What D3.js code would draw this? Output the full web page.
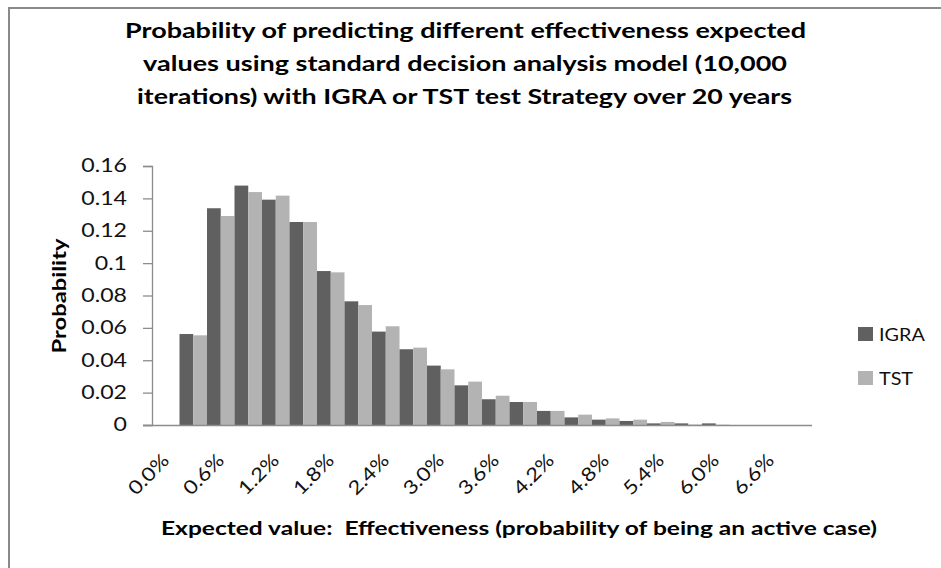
<!DOCTYPE html>
<html><head><meta charset="utf-8">
<script src="https://cdn.jsdelivr.net/npm/d3@7"></script>
<style>html,body{margin:0;padding:0;background:#fff;overflow:hidden} text{white-space:pre}</style>
</head><body>
<svg id="chart" width="941" height="568"></svg>
<script>
const categories = ["0.0%","0.3%","0.6%","0.9%","1.2%","1.5%","1.8%","2.1%","2.4%","2.7%","3.0%","3.3%","3.6%","3.9%","4.2%","4.5%","4.8%","5.1%","5.4%","5.7%","6.0%","6.3%","6.6%","6.9%"];
const tickLabels = ["0.0%","0.6%","1.2%","1.8%","2.4%","3.0%","3.6%","4.2%","4.8%","5.4%","6.0%","6.6%"];
const seriesNames = ["IGRA","TST"];
const igra = [0, 0.0562, 0.1339, 0.1479, 0.1392, 0.1254, 0.0951, 0.0764, 0.0577, 0.0468, 0.0367, 0.0245, 0.0159, 0.0142, 0.0087, 0.0047, 0.0033, 0.0025, 0.0010, 0.0010, 0.0010, 0, 0, 0];
const tst  = [0, 0.0554, 0.1291, 0.1439, 0.1417, 0.1254, 0.0943, 0.0741, 0.0610, 0.0478, 0.0344, 0.0268, 0.0181, 0.0142, 0.0087, 0.0064, 0.0041, 0.0033, 0.0019, 0.0003, 0.0002, 0, 0, 0];
const yTicks = [0, 0.02, 0.04, 0.06, 0.08, 0.1, 0.12, 0.14, 0.16];
const titleLines = ["Probability of predicting different effectiveness expected","values using standard decision analysis model (10,000","iterations) with IGRA or TST test Strategy over 20 years"];
const xTitle = "Expected value:  Effectiveness (probability of being an active case)";
const yTitle = "Probability";

const FONT = "Lato, 'Open Sans', sans-serif";
const colors = {IGRA:"#606060", TST:"#b3b3b3"};
const svg = d3.select("#chart");

function stretch(sel, k){ sel.each(function(){ const L=this.getComputedTextLength(); d3.select(this).attr("textLength", L*k).attr("lengthAdjust","spacingAndGlyphs"); }); }
function fitTo(sel, w){ sel.attr("textLength", w).attr("lengthAdjust","spacingAndGlyphs"); }

// border
svg.append("rect").attr("x",9).attr("y",8).attr("width",1200).attr("height",1200)
  .attr("fill","#fff").attr("stroke","#8a8a8a").attr("stroke-width",2);

// title
const titleX = [125,143,137], titleW=[681,644,655], titleY=[38,71,104];
titleLines.forEach((t,i)=>{
  const tx = svg.append("text").attr("x",titleX[i]).attr("y",titleY[i]).text(t)
    .attr("font-family",FONT).attr("font-weight","bold").attr("font-size",21).attr("fill","#000");
  fitTo(tx, titleW[i]);
});

const x = d3.scaleBand().domain(categories).range([152,812]).paddingInner(0).paddingOuter(0);
const xs = d3.scaleBand().domain(seriesNames).range([0,x.bandwidth()]).padding(0);
const y = d3.scaleLinear().domain([0,0.16]).range([425,166]);

const data = categories.map((c,i)=>({cat:c, IGRA:igra[i], TST:tst[i]}));

// bars
const g = svg.append("g");
g.selectAll("g.cat").data(data).join("g").attr("class","cat")
  .attr("transform",d=>`translate(${x(d.cat)},0)`)
  .selectAll("rect").data(d=>seriesNames.map(s=>({s, v:d[s]}))).join("rect")
  .attr("x",d=>xs(d.s)).attr("width",xs.bandwidth())
  .attr("y",d=>y(d.v)).attr("height",d=>y(0)-y(d.v))
  .attr("fill",d=>colors[d.s]);

// y axis
const yAxis = d3.axisLeft(y).tickValues(yTicks).tickSize(9).tickPadding(16).tickFormat(d3.format("~g"));
const ya = svg.append("g").attr("transform","translate(152,0)").call(yAxis);
ya.selectAll("path,line").attr("stroke","#8c8c8c").attr("stroke-width",1.3);
ya.selectAll("text").attr("font-family",FONT).attr("font-size",18.5).attr("fill","#111");
stretch(ya.selectAll("text"), 1.25);

// x axis
const xAxis = d3.axisBottom(x).tickSize(0).tickFormat(()=> "");
const xa = svg.append("g").attr("transform","translate(0,425)").call(xAxis);
xa.select("path").attr("stroke","#8c8c8c").attr("stroke-width",1.5).attr("d","M143,0.5H812");
xa.selectAll(".tick").remove();

// x tick labels
const xl = svg.append("g").selectAll("text").data(tickLabels).join("text")
  .attr("transform",d=>`translate(${x(d)+x.bandwidth()/2},457) rotate(-45)`)
  .attr("text-anchor","end").attr("dy","0.35em")
  .attr("font-family",FONT).attr("font-size",19).attr("fill","#111").text(d=>d);
stretch(xl, 1.17);

// axis titles
const xt = svg.append("text").attr("x",161).attr("y",535).text(xTitle)
  .attr("font-family",FONT).attr("font-weight","bold").attr("font-size",19.5).attr("fill","#000");
fitTo(xt, 716);
const yt = svg.append("text").attr("transform","translate(66,296) rotate(-90)").attr("text-anchor","middle")
  .text(yTitle).attr("font-family",FONT).attr("font-weight","bold").attr("font-size",18.5).attr("fill","#000");
fitTo(yt, 115);

// legend
const leg = svg.append("g").selectAll("g").data(seriesNames).join("g")
  .attr("transform",(d,i)=>`translate(858,${327+i*44})`);
leg.append("rect").attr("width",15).attr("height",14).attr("fill",d=>colors[d]);
leg.append("text").attr("x",21).attr("y",13.5).text(d=>d)
  .attr("font-family",FONT).attr("font-size",18).attr("fill","#111");
stretch(leg.selectAll("text"), 1.1);
</script>
</body></html>
